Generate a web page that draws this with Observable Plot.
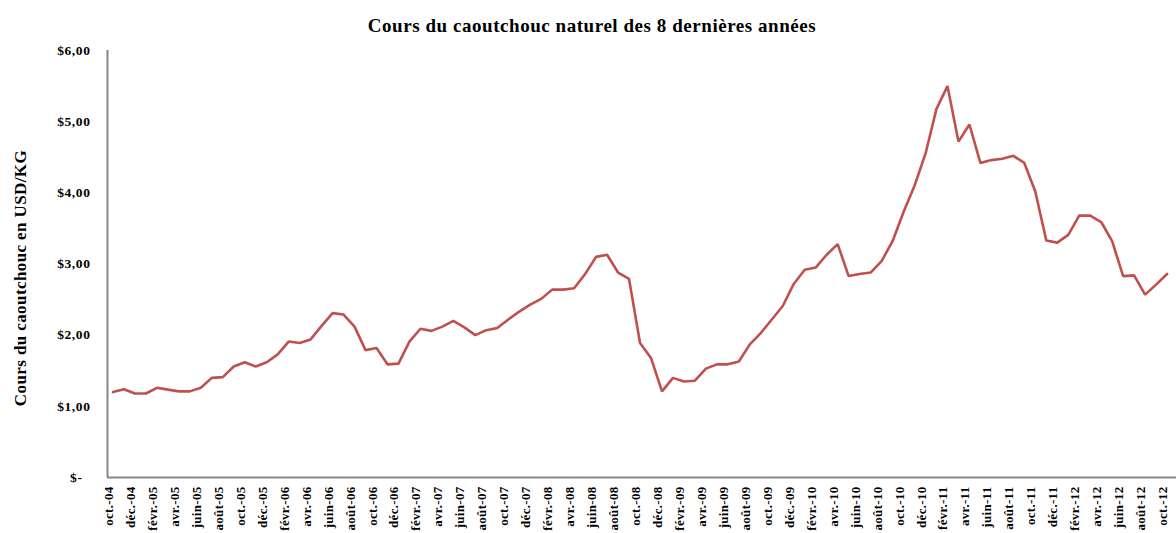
<!DOCTYPE html>
<html>
<head>
<meta charset="utf-8">
<script src="https://cdn.jsdelivr.net/npm/d3@7"></script>
<script src="https://cdn.jsdelivr.net/npm/@observablehq/plot@0.6"></script>
<style>
  html, body { margin: 0; padding: 0; background: #fff; }
  #chart svg { display: block; }
  .ttl text { letter-spacing: 0.55px; }
  .ylab text { letter-spacing: 0.4px; }
  .ytk text { letter-spacing: 0.6px; }
  .xtk text { letter-spacing: 0.3px; }
</style>
</head>
<body>
<div id="chart"></div>
<script>
// Month names (French abbreviations) and years for the category axis (oct-04 .. oct-12)
const monthNames = ["janv.", "févr.", "mars", "avr.", "mai", "juin", "juil.", "août", "sept.", "oct.", "nov.", "déc."];
const startYear = 2004, startMonth = 9; // October 2004

// Monthly natural rubber price, USD/KG
const prices = [
  1.20, 1.24, 1.18, 1.18, 1.26, 1.235, 1.21, 1.21, 1.26, 1.40,
  1.41, 1.56, 1.62, 1.56, 1.62, 1.73, 1.91, 1.89, 1.94, 2.13,
  2.31, 2.29, 2.12, 1.79, 1.82, 1.59, 1.60, 1.91, 2.09, 2.06,
  2.12, 2.20, 2.11, 2.00, 2.07, 2.10, 2.22, 2.33, 2.43, 2.51,
  2.64, 2.64, 2.66, 2.86, 3.10, 3.13, 2.88, 2.79, 1.89, 1.68,
  1.21, 1.40, 1.35, 1.36, 1.53, 1.59, 1.59, 1.63, 1.87, 2.03,
  2.22, 2.41, 2.72, 2.92, 2.95, 3.13, 3.28, 2.83, 2.86, 2.88,
  3.04, 3.32, 3.73, 4.10, 4.55, 5.18, 5.50, 4.72, 4.96, 4.42,
  4.46, 4.48, 4.52, 4.42, 4.02, 3.33, 3.30, 3.41, 3.68, 3.68,
  3.59, 3.32, 2.83, 2.84, 2.57, 2.71, 2.86
];

const categories = prices.map((_, i) => {
  const m = (startMonth + i) % 12;
  const y = startYear + Math.floor((startMonth + i) / 12);
  return monthNames[m] + "-" + String(y % 100).padStart(2, "0");
});

const yTicks = [0, 1, 2, 3, 4, 5, 6];
const tickStep = 2; // every second month labelled

const title = "Cours du caoutchouc naturel des 8 dernières années";
const yLabel = "Cours du caoutchouc en USD/KG";

const data = prices.map((v, i) => ({i, v, label: categories[i]}));
const labelled = data.filter(d => d.i % tickStep === 0);

const font = "'Liberation Serif', 'DejaVu Serif', serif";
const fmt = v => v === 0 ? "$-" : "$" + v.toFixed(2).replace(".", ",");

const chart = Plot.plot({
  width: 1176,
  height: 533,
  marginLeft: 107,
  marginRight: 0,
  marginTop: 50,
  marginBottom: 56,
  style: {fontFamily: font, fontWeight: "bold", fontSize: "13px", color: "#000", background: "#fff", overflow: "visible"},
  x: {domain: [-0.5, 96.86], axis: null},
  y: {domain: [0, 6], axis: null},
  marks: [
    // y tick labels
    Plot.text(yTicks.filter(t => t > 0), {
      y: d => d, frameAnchor: "left", text: d => fmt(d), textAnchor: "end", dx: -17,
      fontSize: 13.5, fontWeight: "bold", fill: "#000", className: "ytk"
    }),
    Plot.text(yTicks.filter(t => t === 0), {
      y: d => d, frameAnchor: "left", text: d => fmt(d), textAnchor: "end", dx: -25,
      fontSize: 13.5, fontWeight: "bold", fill: "#000", className: "ytk"
    }),
    // x tick labels
    Plot.text(labelled, {
      x: "i", frameAnchor: "bottom", text: "label", rotate: -90, textAnchor: "end", dy: 9,
      fontSize: 13, fontWeight: "bold", fill: "#000", className: "xtk"
    }),
    // data line
    Plot.line(data, {x: "i", y: "v", stroke: "#c0504d", strokeWidth: 2.6, strokeLinejoin: "miter", curve: "linear"}),
    // axis lines
    Plot.ruleX([-0.5], {stroke: "#878787", strokeWidth: 2}),
    Plot.ruleY([0], {stroke: "#878787", strokeWidth: 2}),
    // title
    Plot.text([title], {
      frameAnchor: "top", text: d => d, dx: -50, dy: -32, fontSize: 19, fontWeight: "bold", fill: "#000", className: "ttl"
    }),
    // y axis title
    Plot.text([yLabel], {
      frameAnchor: "left", text: d => d, rotate: -90, textAnchor: "middle", dx: -87, dy: 14,
      fontSize: 17, fontWeight: "bold", fill: "#000", className: "ylab"
    })
  ]
});
document.getElementById("chart").appendChild(chart);
</script>
</body>
</html>
